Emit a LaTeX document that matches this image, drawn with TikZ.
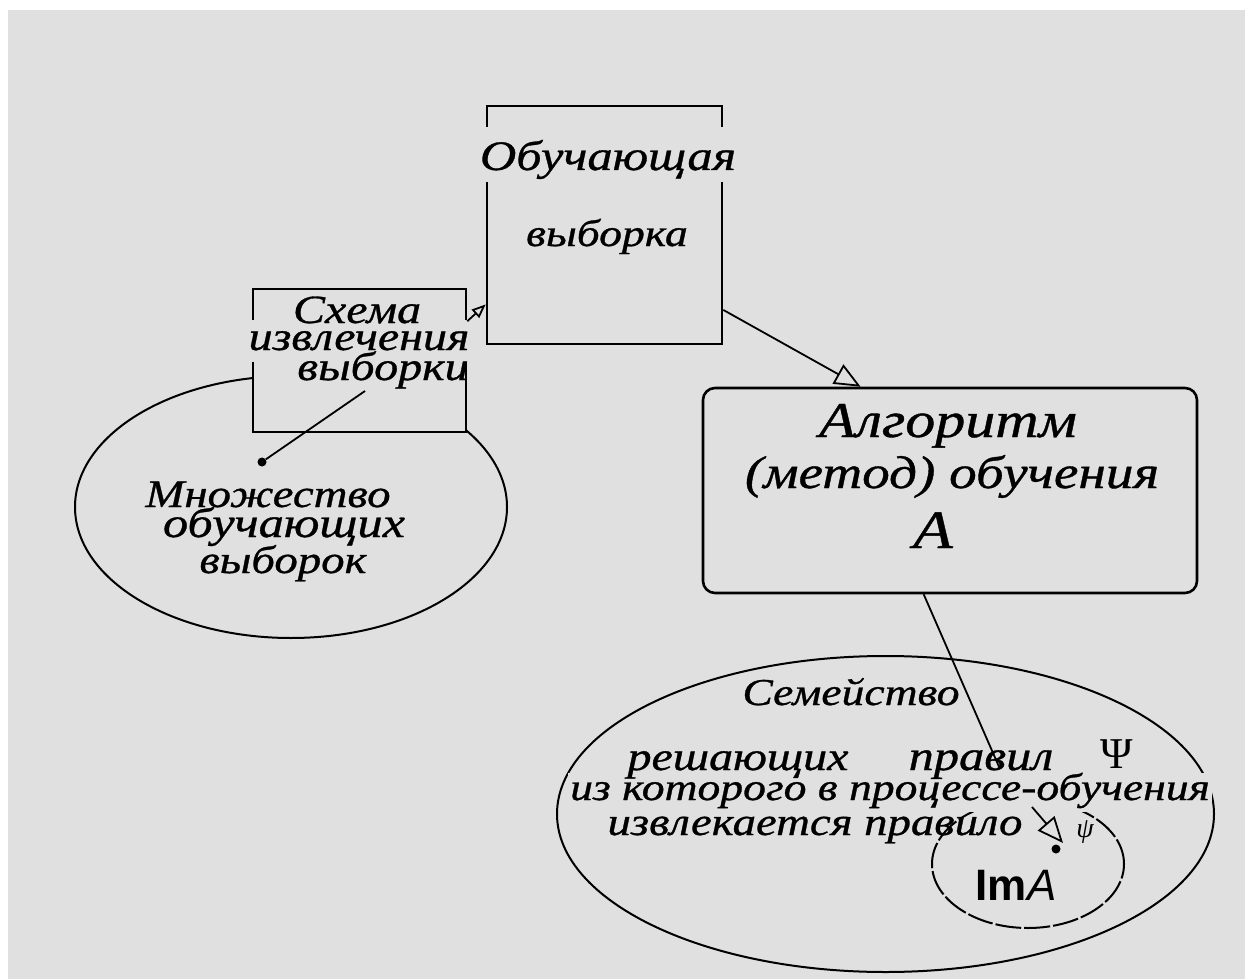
\documentclass[tikz,border=0pt]{standalone}
\usepackage{fontspec}
\setmainfont{Liberation Serif}
\newfontfamily\hand{Liberation Serif}[FakeStretch=1.2, FakeBold=0.8]
\newfontfamily\sansf{Liberation Sans}
\usetikzlibrary{arrows.meta,calc,shapes.geometric}
\definecolor{bg}{HTML}{E0E0E0}
\begin{document}
\begin{tikzpicture}[x=1pt,y=-1pt,
  hand/.style={font=\hand\itshape, inner sep=0pt, anchor=base},
  cover/.style={fill=bg, inner xsep=2pt, inner ysep=0pt},
  boxline/.style={draw=black, line width=2.6pt, inner sep=0pt},
  ovalline/.style={draw=black, line width=2pt, ellipse, inner sep=0pt},
  conn/.style={draw=black, line width=1.8pt},
  bigarrow/.style={conn, -{Triangle[open,length=26pt,width=22pt,line width=1.8pt]}},
  smallarrow/.style={conn, -{Triangle[open,length=14pt,width=11pt,line width=1.8pt]}},
  blob/.style={circle, fill=black, inner sep=0pt, minimum size=9pt}
]
\useasboundingbox (0,0) rectangle (1245,979);
\fill[white] (0,0) rectangle (1245,979);
\fill[bg] (8,10) rectangle (1245,979);

% set of training samples
\node[ovalline, minimum width=432pt, minimum height=262pt] (mno) at (291,507) {};
\node[boxline, fill=bg, minimum width=213pt, minimum height=143pt] (sch) at (359.5,360.5) {};
% training sample box
\node[boxline, minimum width=235pt, minimum height=238pt] (obu) at (604.5,225) {};
% algorithm box
\node[boxline, rounded corners=12pt, minimum width=494pt, minimum height=205pt] (alg) at (950,490.5) {};
% family of rules
\node[ovalline, minimum width=657pt, minimum height=316pt] (fam) at (885.5,814) {};
\node[ovalline, dash pattern=on 26pt off 3pt, minimum width=192pt, minimum height=128pt] (ima) at (1028,864) {};

% texts that cover the lines behind them
\node[hand, cover] (tobu1) at (608,170) {\fontsize{42}{48}\selectfont\rule[-12pt]{0pt}{55pt}Обучающая};
\node[hand, cover] (tsch2) at (359,350) {\fontsize{40}{44}\selectfont\rule[-12pt]{0pt}{42pt}извлечения};
\node[hand, cover] (tfam4) at (890,800) {\fontsize{38}{43}\selectfont\rule[-12pt]{0pt}{37pt}из которого в процессе-обучения};

% other texts
\node[hand] (tobu2) at (607,246) {\fontsize{38}{46}\selectfont выборка};

\node[hand] (tsch1) at (357,323) {\fontsize{40}{44}\selectfont Схема};
\node[hand] (tsch3) at (383,380) {\fontsize{40}{44}\selectfont выборки};

\node[hand] (tmno1) at (268,507) {\fontsize{39}{46}\selectfont Множество};
\node[hand] (tmno2) at (284,537) {\fontsize{42}{46}\selectfont обучающих};
\node[hand] (tmno3) at (283,573) {\fontsize{39}{46}\selectfont выборок};

\node[hand] (talg1) at (948,437) {\fontsize{50}{56}\selectfont Алгоритм};
\node[hand] (talg2) at (952,488) {\fontsize{46}{52}\selectfont (метод) обучения};
\node[hand] (talg3) at (933,548) {\fontsize{54}{64}\selectfont A};

\node[hand] (tfam1) at (851,705) {\fontsize{38}{43}\selectfont Семейство};
\node[hand] (tfam2) at (738,770) {\fontsize{40}{43}\selectfont решающих};
\node[hand] (tfam3) at (981,770) {\fontsize{42}{43}\selectfont правил};
\node[inner sep=0pt, anchor=base] (tpsi) at (1117,768) {\fontsize{44}{52}\selectfont Ψ};
\node[hand] (tfam5) at (815,835) {\fontsize{39}{43}\selectfont извлекается правило};
\node[inner sep=0pt, anchor=base, font=\itshape] (tpsis) at (1085,837) {\fontsize{28}{34}\selectfont ψ};
\node[inner sep=0pt, anchor=base, font=\sansf] (tima) at (1016,900) {\fontsize{44}{52}\selectfont\textbf{Im}\textit{A}};

% dots
\node[blob] (dot1) at (262,462) {};
\node[blob] (dot2) at (1056,849) {};

% connectors
\coordinate (c1) at (365,391);
\draw[conn] (dot1) -- (c1);

\coordinate (a1s) at ($(sch.north east)!0.23!(sch.south east)$);
\coordinate (a1e) at ($(obu.north west)!0.83!(obu.south west)$);
\draw[smallarrow] (a1s) -- (a1e);

\coordinate (a2s) at ($(obu.north east)!0.853!(obu.south east)$);
\coordinate (a2e) at ($(alg.north west)!0.32!(alg.north east)$);
\draw[bigarrow] (a2s) -- (a2e);

\coordinate (a3s) at ($(alg.south west)!0.447!(alg.south east)$);
\coordinate (a3e) at (1000,769);
\draw[conn] (a3s) -- (a3e);

\coordinate (a4s) at (1032,807);
\coordinate (a4e) at (1063,843);
\draw[bigarrow] (a4s) -- (a4e);
\end{tikzpicture}
\end{document}
